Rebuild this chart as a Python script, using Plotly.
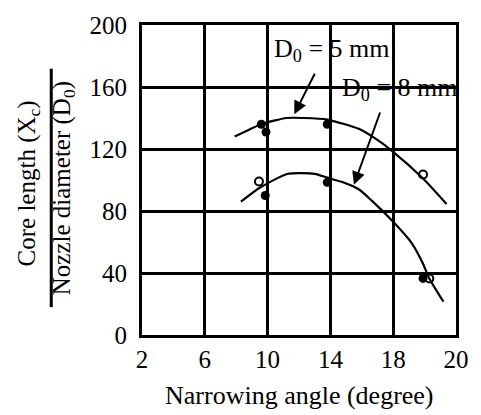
import numpy as np
import plotly.graph_objects as go

# Narrowing angle (degree) vs. core length / nozzle diameter
# Axis ticks: 2..18 every 4 degrees, then a final 18 -> 20 interval drawn at the same width
tick_labels = ["2", "6", "10", "14", "18", "20"]
tick_degrees = [2, 6, 10, 14, 18, 20]
y_ticks = [0, 40, 80, 120, 160, 200]

# Fitted curve for D0 = 5 mm
curve5_deg = [7.9, 9.6, 11.2, 12.3, 13.8, 15.8, 16.9, 17.9, 18.95, 19.7]
curve5_val = [128, 136, 140, 140, 139, 133, 126.5, 119, 101, 84.5]

# Fitted curve for D0 = 8 mm
curve8_deg = [8.3, 9.5, 11.3, 13.0, 13.8, 14.8, 15.8, 16.6, 18.0, 18.6, 18.95, 19.15, 19.6]
curve8_val = [86, 95, 104, 104, 101.5, 98.5, 94, 87, 73, 59, 46, 36.5, 21.5]

# Measured points
filled_deg = [9.6, 9.9, 13.8, 9.85, 13.8, 18.95]
filled_val = [136, 131, 136, 90, 98.5, 36.5]
open_deg = [9.45, 18.95, 19.15]
open_val = [99, 103.5, 36.5]

# Label arrows: (tail degree, tail value, head degree, head value)
arrow5 = (13.05, 169.5, 11.7, 142.5)
arrow8 = (17.2, 144.5, 15.5, 97)


def to_axis(deg):
    """Map degrees onto the drawn axis (last interval 18->20 spans 4 grid units)."""
    d = np.asarray(deg, dtype=float)
    return np.where(d <= 18, d, 18 + 2 * (d - 18))


FONT = "Liberation Serif, Times New Roman, serif"

fig = go.Figure()
for cx, cy in ((curve5_deg, curve5_val), (curve8_deg, curve8_val)):
    fig.add_trace(go.Scatter(x=to_axis(cx), y=cy, mode="lines",
                             line=dict(color="black", width=2.2, shape="spline",
                                       smoothing=0.6),
                             showlegend=False))
fig.add_trace(go.Scatter(x=to_axis(filled_deg), y=filled_val, mode="markers",
                         marker=dict(symbol="circle", size=9, color="black"),
                         showlegend=False))
fig.add_trace(go.Scatter(x=to_axis(open_deg), y=open_val, mode="markers",
                         marker=dict(symbol="circle-open", size=8, color="black",
                                     line=dict(width=2)),
                         showlegend=False))

for tx, ty, hx, hy in (arrow5, arrow8):
    fig.add_annotation(x=float(to_axis(hx)), y=hy, ax=float(to_axis(tx)), ay=ty,
                       xref="x", yref="y", axref="x", ayref="y", text="",
                       showarrow=True, arrowhead=2, arrowsize=1.3, arrowwidth=2,
                       arrowcolor="black")

fig.add_annotation(x=10.25, y=184, xref="x", yref="y", xanchor="left", yanchor="middle",
                   text="D<sub>0</sub> = 5 mm", showarrow=False,
                   font=dict(family=FONT, size=26, color="black"))
fig.add_annotation(x=14.6, y=159, xref="x", yref="y", xanchor="left", yanchor="middle",
                   text="D<sub>0</sub> = 8 mm", showarrow=False,
                   font=dict(family=FONT, size=26, color="black"))

# Axis titles
fig.add_annotation(x=0.50, y=-0.195, xref="paper", yref="paper", xanchor="center",
                   yanchor="middle", text="Narrowing angle (degree)", showarrow=False,
                   font=dict(family=FONT, size=26, color="black"))
fig.add_annotation(x=-0.363, y=0.489, xref="paper", yref="paper", xanchor="center",
                   yanchor="middle", text="Core length (X<sub>c</sub>)", textangle=-90,
                   showarrow=False, font=dict(family=FONT, size=25, color="black"))
fig.add_annotation(x=-0.252, y=0.473, xref="paper", yref="paper", xanchor="center",
                   yanchor="middle", text="Nozzle diameter (D<sub>0</sub>)", textangle=-90,
                   showarrow=False, font=dict(family=FONT, size=25, color="black"))
fig.add_shape(type="line", xref="paper", yref="paper", x0=-0.289, x1=-0.289,
              y0=0.09, y1=0.859, line=dict(color="black", width=3))

axis_common = dict(showgrid=True, gridcolor="black", gridwidth=2.5, zeroline=False,
                   showline=True, linecolor="black", linewidth=3, mirror=True,
                   tickfont=dict(family=FONT, size=25, color="black"),
                   ticks="outside", tickcolor="rgba(0,0,0,0)")

fig.update_xaxes(range=[2, 22], tickmode="array", tickvals=to_axis(tick_degrees),
                 ticktext=tick_labels, ticklen=0, **axis_common)
fig.update_yaxes(range=[0, 200], tickmode="array", tickvals=y_ticks, ticklen=7,
                 **axis_common)

fig.update_layout(width=481, height=415, margin=dict(l=142, r=14, t=24, b=80),
                  plot_bgcolor="white", paper_bgcolor="white",
                  font=dict(family=FONT, color="black"))

fig.write_html("out.html")
